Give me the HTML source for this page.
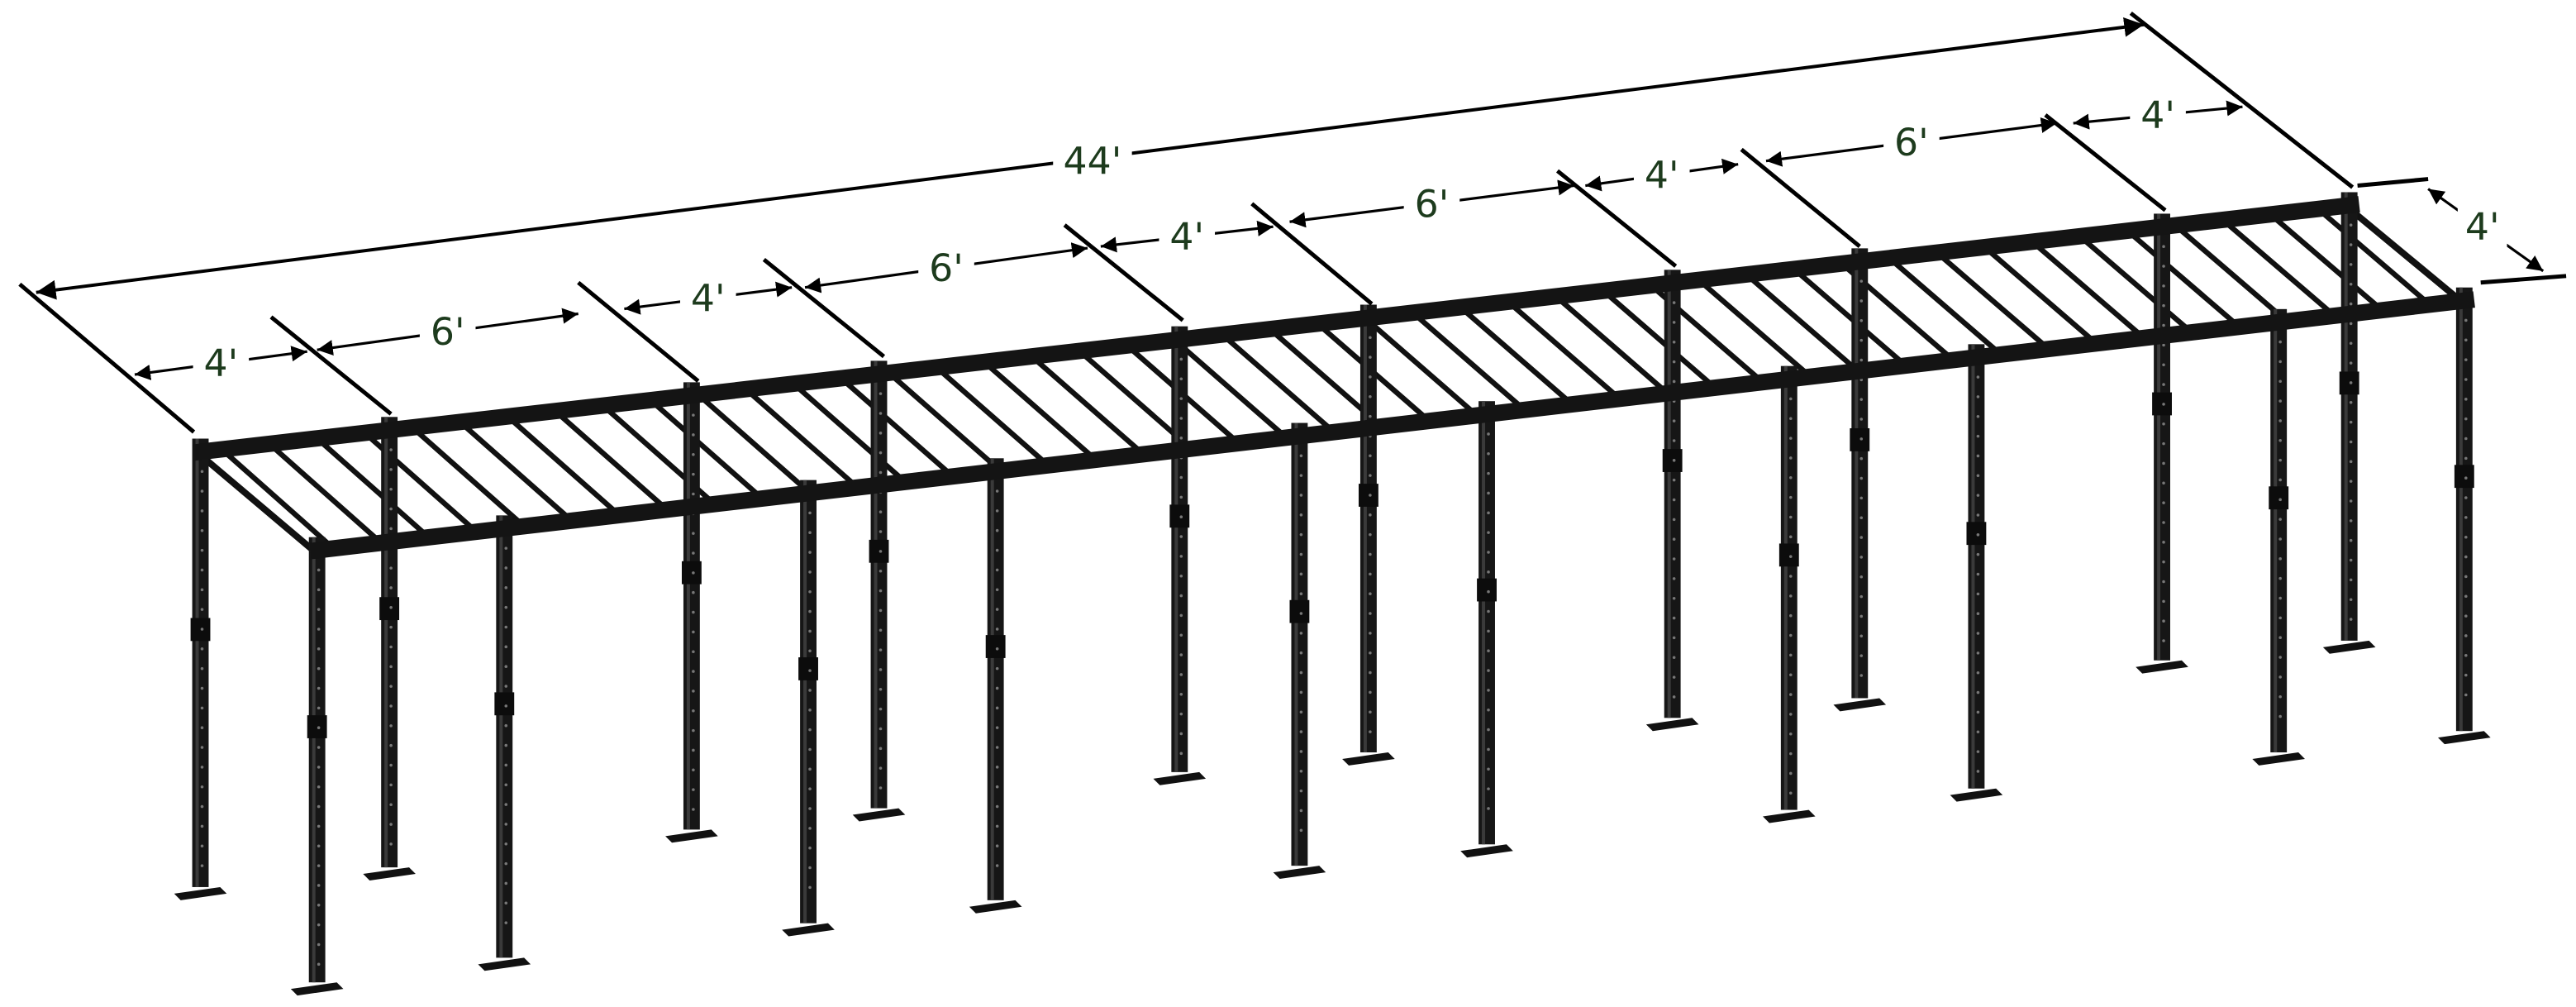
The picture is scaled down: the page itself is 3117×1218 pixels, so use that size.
<!DOCTYPE html>
<html><head><meta charset="utf-8"><style>
html,body{margin:0;padding:0;background:#fff;}
svg{display:block;}
text{font-family:"DejaVu Sans","Liberation Sans",sans-serif;font-size:23px;fill:#1d3b1d;}
</style></head><body>
<svg id="s" width="3117" height="1218" viewBox="0 0 1568 613" preserveAspectRatio="none" xmlns="http://www.w3.org/2000/svg">
<defs>
<marker id="a" viewBox="0 0 10 10" refX="10" refY="5" markerWidth="6" markerHeight="6" orient="auto-start-reverse"><path d="M0,0L10,5L0,10z" fill="#000"/></marker>
</defs>
<g id="g"></g>
</svg>
<script>
var g=document.getElementById('g'),h='';
function L(x1,y1,x2,y2,w,c,extra){h+='<line x1="'+x1+'" y1="'+y1+'" x2="'+x2+'" y2="'+y2+'" stroke="'+(c||'#000')+'" stroke-width="'+w+'" '+(extra||'')+'/>';}
function by(x){return 275+(x-122)*(125-275)/(1430-122);}
function fy(x){return 335+(x-193)*(183-335)/(1500-193);}
// rungs
for(var x=135;x<1430;x+=29){L(x,by(x),x+68,fy(x+68),3.2,'#111');}
// side rails
L(122,by(122)+2,193,fy(193)+2,4,'#111');L(1430,by(1430)+2,1500,fy(1500)+2,4,'#111');
// back posts
var bp=[[122,540],[237,528],[421,505],[535,492],[718,470],[833,458],[1018,437],[1132,425],[1316,402],[1430,390]];
var fp=[[193,598],[307,583],[492,562],[606,548],[791,527],[905,514],[1089,493],[1203,480],[1387,458],[1500,445]];
function post(x,bot,top){
 h+='<rect x="'+(x-5)+'" y="'+top+'" width="10" height="'+(bot-top)+'" fill="#161616"/>';
 h+='<rect x="'+(x-3)+'" y="'+top+'" width="2" height="'+(bot-top)+'" fill="#3a3a3a"/>';
 var m=top+(bot-top)*0.4;h+='<rect x="'+(x-6)+'" y="'+m+'" width="12" height="14" fill="#0c0c0c"/>';
 h+='<polygon points="'+(x-16)+','+(bot+4)+' '+(x+12)+','+(bot)+' '+(x+16)+','+(bot+4)+' '+(x-12)+','+(bot+8)+'" fill="#111"/>';
 for(var y=top+20;y<bot-10;y+=12)h+='<circle cx="'+(x+1)+'" cy="'+y+'" r="0.9" fill="#777"/>';
}
bp.forEach(function(p){post(p[0],p[1],by(p[0])-8);});
// back rail
L(118,by(118),1436,by(1436),10,'#141414');
fp.forEach(function(p){post(p[0],p[1],fy(p[0])-8);});
L(189,fy(189),1506,fy(1506),10,'#141414');
// dimension ticks
var t=[[12,173,118,263],[165,193,238,252],[352,172,425,232],[465,158,538,217],[648,137,720,195],[762,124,835,185],[948,104,1020,162],[1060,91,1132,150],[1245,70,1318,128],[1297,8,1432,114]];
t.forEach(function(a){L(a[0],a[1],a[2],a[3],2.5);});
L(1435,113,1478,109,2.5);L(1510,172,1562,168,2.5);
var M='marker-start="url(#a)" marker-end="url(#a)"';
L(22,178,1305,15,2,'#000',M);
L(1478,115,1548,165,1.6,'#000',M);
var d=[[82,228,187,214],[193,213,352,191],[380,188,482,175],[490,175,662,151],[670,150,775,138],[785,135,958,113],[965,113,1058,100],[1075,98,1252,75],[1262,75,1365,65]];
var lab=["4'","6'","4'","6'","4'","6'","4'","6'","4'"];
d.forEach(function(a,i){L(a[0],a[1],a[2],a[3],1.6,'#000',M);
 var cx=(a[0]+a[2])/2,cy=(a[1]+a[3])/2;
 h+='<rect x="'+(cx-17)+'" y="'+(cy-14)+'" width="34" height="26" fill="#fff"/>';
 h+='<text x="'+cx+'" y="'+(cy+8)+'" text-anchor="middle">'+lab[i]+'</text>';});
var c=[665,98];h+='<rect x="'+(c[0]-24)+'" y="'+(c[1]-14)+'" width="48" height="26" fill="#fff"/><text x="'+c[0]+'" y="'+(c[1]+8)+'" text-anchor="middle">44\'</text>';
h+='<rect x="1496" y="125" width="30" height="26" fill="#fff"/><text x="1511" y="146" text-anchor="middle">4\'</text>';
g.innerHTML=h;
</script>
</body></html>
